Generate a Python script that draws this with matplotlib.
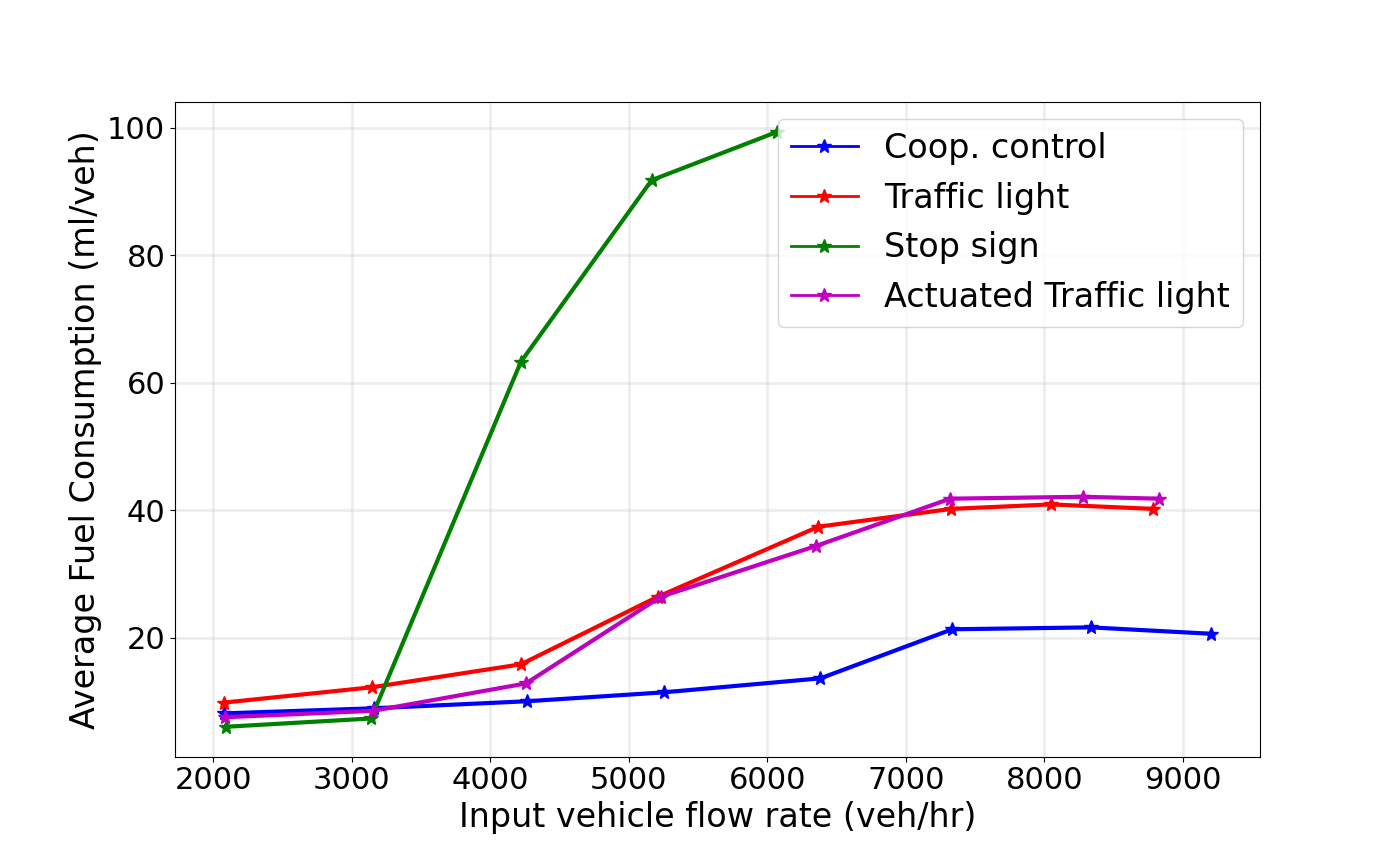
import matplotlib
matplotlib.use('Agg')
import matplotlib.pyplot as plt

# flow rate (veh/hr) and fuel consumption (ml/veh) per strategy
coop_x = [2079, 3161, 4264, 5252, 6384, 7335, 8337, 9202]
coop_y = [8.1, 8.9, 10.0, 11.4, 13.6, 21.3, 21.6, 20.6]

light_x = [2079, 3146, 4221, 5208, 6369, 7328, 8049, 8784]
light_y = [9.8, 12.2, 15.8, 26.4, 37.4, 40.2, 40.9, 40.2]

stop_x = [2094, 3139, 4221, 5165, 6073]
stop_y = [6.0, 7.3, 63.3, 91.8, 99.4]

act_x = [2087, 3154, 4257, 5230, 6355, 7321, 8280, 8828]
act_y = [7.5, 8.5, 12.8, 26.4, 34.4, 41.8, 42.1, 41.8]

labels = ['Coop. control', 'Traffic light', 'Stop sign', 'Actuated Traffic light']

fig, ax = plt.subplots(figsize=(14, 8.5), dpi=100)

style = {'marker': '*', 'markersize': 10, 'linewidth': 3}
ax.plot(coop_x, coop_y, color='b', label=labels[0], **style)
ax.plot(light_x, light_y, color='r', label=labels[1], **style)
ax.plot(stop_x, stop_y, color='g', label=labels[2], **style)
ax.plot(act_x, act_y, color='m', label=labels[3], **style)

ax.grid(True, color='lightgray', linewidth=2, alpha=0.4)
ax.tick_params(labelsize=22)
ax.set_xlabel('Input vehicle flow rate (veh/hr)', fontsize=24)
ax.set_ylabel('Average Fuel Consumption (ml/veh)', fontsize=24)

leg = ax.legend(loc='upper right', fontsize=24)
for h in leg.legend_handles:
    h.set_linewidth(2)

plt.savefig('out.png')
